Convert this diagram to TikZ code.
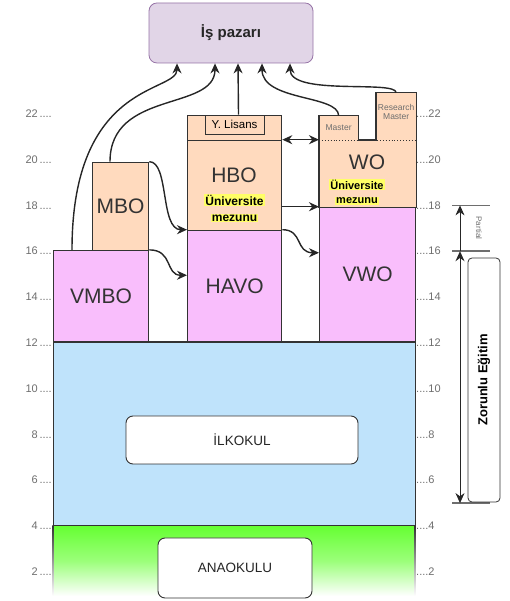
\documentclass[tikz,border=0pt]{standalone}
\usepackage{fontspec}
\setmainfont{Liberation Sans}
\usetikzlibrary{arrows.meta,positioning,calc}
\definecolor{edgegray}{RGB}{51,51,51}
\definecolor{tickgray}{RGB}{110,110,110}
\definecolor{pinkfill}{RGB}{249,190,252}
\definecolor{peachfill}{RGB}{255,218,190}
\definecolor{bluefill}{RGB}{191,227,251}
\definecolor{greenfill}{RGB}{102,255,51}
\definecolor{jobfill}{RGB}{225,213,231}
\definecolor{jobedge}{RGB}{150,115,166}
\definecolor{hlyellow}{RGB}{255,255,102}

\begin{document}
\begin{tikzpicture}[x=1pt,y=1pt,
  stage/.style={draw=edgegray,line width=1.3pt,inner sep=0pt,anchor=south west,
    font=\fontsize{21}{21}\selectfont,text=edgegray},
  whitebox/.style={draw=edgegray,fill=white,rounded corners=7pt,line width=0.9pt,
    inner sep=0pt,font=\fontsize{13.5}{14}\selectfont,text=black!85},
  bigtxt/.style={font=\fontsize{21}{21}\selectfont,text=edgegray},
  grad/.style={fill=hlyellow,inner sep=1pt,font=\bfseries\fontsize{12}{12}\selectfont},
  smalltxt/.style={text=tickgray,align=center,inner sep=0pt,font=\fontsize{8.5}{9}\selectfont},
  tick/.style={text=tickgray,font=\fontsize{11}{11}\selectfont,inner sep=1pt},
  flow/.style={-{Stealth[length=10pt,width=9pt]},line width=1.4pt,draw=black!85},
  both/.style={{Stealth[length=10pt,width=9pt]}-{Stealth[length=10pt,width=9pt]},draw=black!85},
  bar/.style={draw=tickgray,line width=1.6pt}]
  \useasboundingbox (0,0) rectangle (510,601);

  % kindergarten and primary school
  \shade[top color=greenfill,bottom color=white,middle color=greenfill!65] (53,5) rectangle (415,75);
  \shade[top color=edgegray,bottom color=white] (52.35,5) rectangle (53.65,75);
  \shade[top color=edgegray,bottom color=white] (414.35,5) rectangle (415.65,75);
  \node[stage,fill=bluefill,minimum width=362,minimum height=183.2] (primary) at (53,75) {};
  \node[whitebox,minimum width=232,minimum height=48] (ilkokul) at (242,161) {İLKOKUL};
  \node[whitebox,minimum width=154,minimum height=60] (anaokulu) at (235,33) {ANAOKULU};

  % secondary school
  \node[stage,fill=pinkfill,minimum width=95,minimum height=91.6] (vmbo) at (53,258.2) {VMBO};
  \node[stage,fill=pinkfill,minimum width=94,minimum height=111.8] (havo) at (187,258.2) {HAVO};
  \node[stage,fill=pinkfill,minimum width=96,minimum height=134.8] (vwo) at (319,258.2) {VWO};

  % higher education
  \node[stage,fill=peachfill,minimum width=56,minimum height=88.2] (mbo) at (92,349.8) {MBO};
  \node[stage,fill=peachfill,minimum width=94,minimum height=90] (hbo) at (187,370) {};
  \node[stage,fill=peachfill,minimum width=94,minimum height=25] (msc) at (187,460) {};
  \node[stage,draw=none,fill=peachfill,minimum width=96,minimum height=68] (wo) at (319,393) {};
  \node[stage,draw=none,fill=peachfill,minimum width=38,minimum height=23] (master) at (319,461) {};
  \node[stage,draw=none,fill=peachfill,minimum width=39,minimum height=46] (research) at (376,461) {};
  \draw[draw=edgegray,line width=1.3pt] (wo.south west) -- (master.north west)
    -- (master.north east) -- (master.south east) -- (research.south west)
    -- (research.north west) -- (research.north east) -- (wo.south east);
  \draw[dotted,line width=0.9pt,edgegray] (master.south west) -- (research.south east);
  \node[smalltxt] (mastertxt) at (master.center) {Master};
  \node[smalltxt] (researchtxt) at ([yshift=4pt]research.center) {Research\\Master};

  \node[bigtxt] (hbotxt) at (234,425.5) {HBO};
  \node[grad] (hbograd) at (234.5,401) {Üniversite};
  \node[grad] (hbograd2) at (234.5,383) {mezunu};
  \node[bigtxt] (wotxt) at (367,439) {WO};
  \node[grad,font=\bfseries\fontsize{11}{11}\selectfont] (wograd) at (357,416.5) {Üniversite};
  \node[grad,font=\bfseries\fontsize{11}{11}\selectfont] (wograd2) at (357,400) {mezunu};
  \node[draw=edgegray,fill=peachfill,line width=0.8pt,minimum width=59,minimum height=19,
    inner sep=0pt,font=\fontsize{11.5}{12}\selectfont] (ylisans) at (234.5,476.5) {Y. Lisans};

  % labour market
  \node[draw=jobedge,fill=jobfill,rounded corners=8pt,line width=0.8pt,minimum width=164,
    minimum height=60,font=\bfseries\fontsize{15}{15}\selectfont,text=black!85] (job) at (231,568) {İş pazarı};

  % ages
  \foreach \yr in {2,4,...,22} {
    \pgfmathsetmacro{\ypos}{22.9*\yr-16.6}
    \node[tick,anchor=east] (tl\yr) at (53,\ypos) {\yr\,....};
    \node[tick,anchor=west] (tr\yr) at (415,\ypos) {....\yr};
  }

  % compulsory education
  \coordinate (top18) at (460,395.6);
  \coordinate (top16) at (460,349.8);
  \coordinate (bot5) at (460,97.9);
  \draw[bar] ([xshift=-8pt]top18) -- ([xshift=30pt]top18);
  \draw[bar] ([xshift=-8pt]top16) -- ([xshift=30pt]top16);
  \draw[bar] ([xshift=-8pt]bot5) -- ([xshift=30pt]bot5);
  \draw[flow,line width=1pt] (top16) -- (top18);
  \draw[both,line width=1pt] (bot5) -- (top16);
  \node[draw=edgegray,fill=white,rounded corners=4pt,line width=0.8pt,minimum width=32,
    minimum height=244,inner sep=0pt] (zorunlu) at (484,221) {};
  \node[rotate=90,font=\bfseries\fontsize{13}{13}\selectfont] (zorunlutxt) at (zorunlu.center) {Zorunlu Eğitim};
  \node[rotate=-90,text=tickgray,font=\fontsize{8}{8}\selectfont] (partial) at (479,373) {Partial};

  % routes
  \draw[flow] (vmbo.north east) .. controls +(24,0) and +(-22,0) .. ([yshift=11pt]havo.west);
  \draw[flow] (mbo.north east) .. controls +(20,0) and +(-27,0) .. (havo.north west);
  \draw[flow] (havo.north east) .. controls +(21,0) and +(-24,0) .. ([yshift=22pt]vwo.west);
  \draw[flow] (vwo.north west -| hbo.east) -- (vwo.north west);
  \draw[both,line width=1.4pt] (hbo.north east) -- (hbo.north east -| wo.west);
  \draw[flow] ([xshift=19pt]vmbo.north west) .. controls +(0,170) and +(0,-30) .. ([xshift=-54pt]job.south);
  \draw[flow] ([xshift=18pt]mbo.north west) .. controls +(0,72) and +(0,-48) .. ([xshift=-16pt]job.south);
  \draw[flow] ([xshift=4pt]ylisans.north) -- ([xshift=7pt]job.south);
  \draw[flow] (master.north) .. controls +(0,21) and +(0,-38) .. ([xshift=31pt]job.south);
  \draw[flow] (research.north) .. controls +(0,13) and +(0,-33) .. ([xshift=59pt]job.south);
\end{tikzpicture}
\end{document}
